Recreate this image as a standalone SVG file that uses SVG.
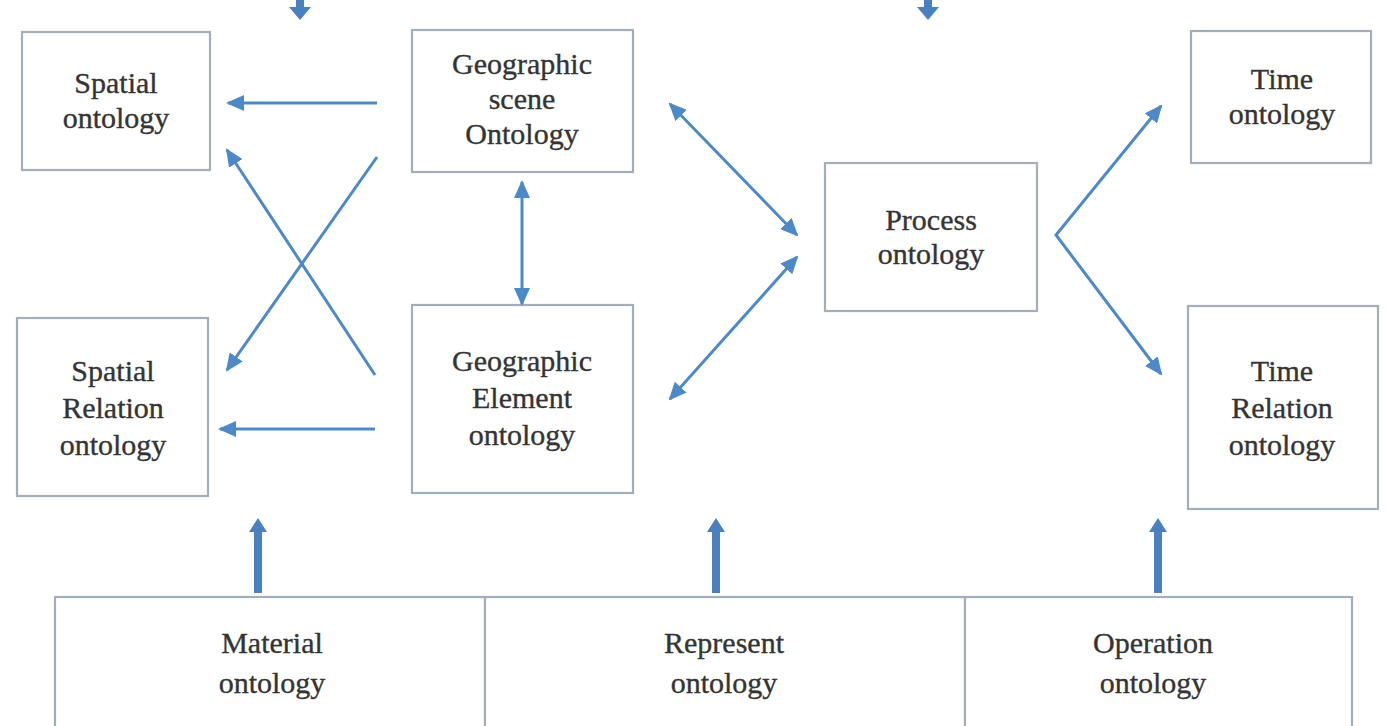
<svg xmlns="http://www.w3.org/2000/svg" width="1387" height="726" viewBox="0 0 1387 726">
  <style>
    .box { fill: #ffffff; stroke: #a3aeb9; stroke-width: 2.2; }
    .lbl { font-family: "Liberation Serif", "Times New Roman", serif; font-size: 30px; fill: #343434; text-anchor: middle; stroke: #343434; stroke-width: 0.35; }
    .link { fill: none; stroke: #4d89c6; stroke-width: 3; }
    .fat { fill: #4a80c0; }
  </style>
  <defs>
    <marker id="head" markerUnits="userSpaceOnUse" markerWidth="18" markerHeight="16" refX="16" refY="8" orient="auto-start-reverse">
      <path d="M0,0 L18,8 L0,16 z" fill="#4d89c6"/>
    </marker>
    <!-- thick upward arrow, tip at origin -->
    <path id="upArrow" d="M0,0 L9,14 L4,14 L4,75 L-4,75 L-4,14 L-9,14 z"/>
  </defs>

  <rect width="1387" height="726" fill="#ffffff"/>

  <!-- arrow tips entering from above -->
  <g id="top-tips" class="fat">
    <path d="M296,0 L304,0 L304,7 L311,7 L300,20 L289,7 L296,7 z"/>
    <path d="M924,0 L932,0 L932,7 L939,7 L928,20 L917,7 L924,7 z"/>
  </g>

  <g id="spatial">
    <rect class="box" x="22" y="32" width="188" height="138"/>
    <text class="lbl" x="116" y="93">Spatial</text>
    <text class="lbl" x="116" y="128">ontology</text>
  </g>

  <g id="scene">
    <rect class="box" x="412" y="30" width="221" height="142"/>
    <text class="lbl" x="522" y="74">Geographic</text>
    <text class="lbl" x="522" y="109">scene</text>
    <text class="lbl" x="522" y="144">Ontology</text>
  </g>

  <g id="time">
    <rect class="box" x="1191" y="31" width="180" height="132"/>
    <text class="lbl" x="1282" y="89">Time</text>
    <text class="lbl" x="1282" y="124">ontology</text>
  </g>

  <g id="process">
    <rect class="box" x="825" y="163" width="212" height="148"/>
    <text class="lbl" x="931" y="230">Process</text>
    <text class="lbl" x="931" y="264">ontology</text>
  </g>

  <g id="spatial-relation">
    <rect class="box" x="17" y="318" width="191" height="178"/>
    <text class="lbl" x="113" y="381">Spatial</text>
    <text class="lbl" x="113" y="418">Relation</text>
    <text class="lbl" x="113" y="455">ontology</text>
  </g>

  <g id="element">
    <rect class="box" x="412" y="305" width="221" height="188"/>
    <text class="lbl" x="522" y="371">Geographic</text>
    <text class="lbl" x="522" y="408">Element</text>
    <text class="lbl" x="522" y="445">ontology</text>
  </g>

  <g id="time-relation">
    <rect class="box" x="1188" y="306" width="190" height="203"/>
    <text class="lbl" x="1282" y="381">Time</text>
    <text class="lbl" x="1282" y="418">Relation</text>
    <text class="lbl" x="1282" y="455">ontology</text>
  </g>

  <g id="material">
    <rect class="box" x="55" y="597" width="430" height="135"/>
    <text class="lbl" x="272" y="653">Material</text>
    <text class="lbl" x="272" y="693">ontology</text>
  </g>

  <g id="represent">
    <rect class="box" x="485" y="597" width="480" height="135"/>
    <text class="lbl" x="724" y="653">Represent</text>
    <text class="lbl" x="724" y="693">ontology</text>
  </g>

  <g id="operation">
    <rect class="box" x="965" y="597" width="387" height="135"/>
    <text class="lbl" x="1153" y="653">Operation</text>
    <text class="lbl" x="1153" y="693">ontology</text>
  </g>

  <g id="connectors">
    <line class="link" x1="377" y1="103" x2="228" y2="103" marker-end="url(#head)"/>
    <line class="link" x1="375" y1="429" x2="220" y2="429" marker-end="url(#head)"/>
    <line class="link" x1="377" y1="157" x2="227" y2="370" marker-end="url(#head)"/>
    <line class="link" x1="375" y1="375" x2="227" y2="150" marker-end="url(#head)"/>
    <line class="link" x1="522" y1="182" x2="522" y2="304" marker-start="url(#head)" marker-end="url(#head)"/>
    <line class="link" x1="670" y1="104" x2="797" y2="235" marker-start="url(#head)" marker-end="url(#head)"/>
    <line class="link" x1="797" y1="257" x2="670" y2="399" marker-start="url(#head)" marker-end="url(#head)"/>
    <path class="link" d="M1161,106 L1056,235 L1161,374" marker-start="url(#head)" marker-end="url(#head)"/>
    <g class="fat">
      <use href="#upArrow" x="258" y="518"/>
      <use href="#upArrow" x="716" y="518"/>
      <use href="#upArrow" x="1158" y="518"/>
    </g>
  </g>
</svg>
